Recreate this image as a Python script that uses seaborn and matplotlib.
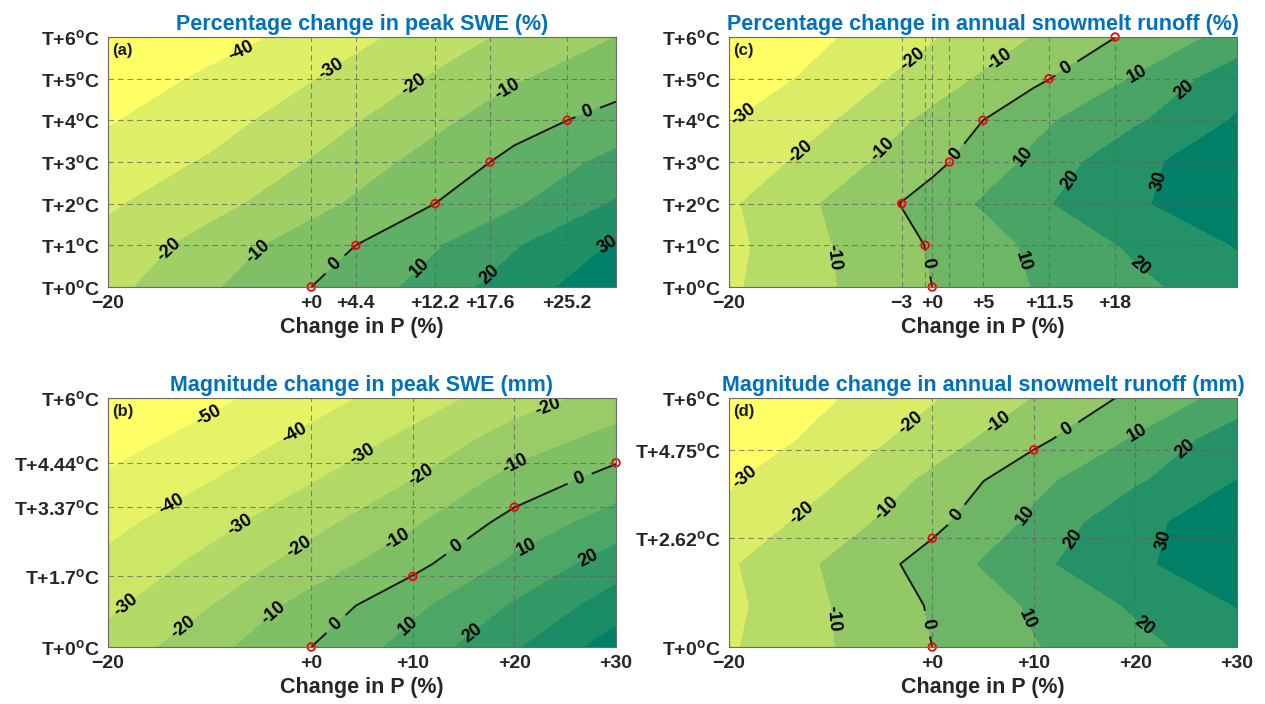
import numpy as np
import matplotlib
matplotlib.use("Agg")
import matplotlib.pyplot as plt
import seaborn as sns

# ---------------------------------------------------------------------------
# Sensitivity grids: rows = warming (T+0 .. T+6 degC), cols = change in P (%)
# ---------------------------------------------------------------------------
precip_change = [-20, -10, 0, 10, 20, 30]
warming = [0, 1, 2, 3, 4, 5, 6]

peak_swe_pct = [
    [-23.0, -11.5, 0.0, 11.5, 25.0, 37.0],
    [-27.0, -16.0, -4.8, 6.2, 19.0, 31.0],
    [-31.3, -23.5, -13.4, -2.4, 8.6, 21.0],
    [-36.0, -29.0, -19.5, -8.4, 2.64, 13.0],
    [-40.8, -34.0, -25.0, -15.0, -3.96, 3.66],
    [-45.0, -38.5, -30.5, -21.0, -11.0, -4.5],
    [-49.0, -43.5, -37.5, -27.0, -18.0, -10.0],
]
peak_swe_mm = [
    [-26.5, -13.3, 0.0, 13.9, 28.7, 45.0],
    [-32.0, -20.4, -6.0, 7.6, 20.9, 35.0],
    [-37.5, -27.1, -15.7, -2.9, 12.1, 25.0],
    [-43.0, -33.5, -23.1, -11.6, 3.6, 14.5],
    [-48.5, -40.3, -30.6, -19.8, -6.3, 4.5],
    [-54.0, -46.5, -37.5, -27.5, -15.5, -6.5],
    [-59.0, -52.5, -44.0, -35.0, -25.0, -16.0],
]
runoff_pct = [
    [-21.6, -10.75, 0.0, 10.3, 17.5, 26.0],
    [-22.7, -10.2, 0.86, 11.6, 21.7, 30.5],
    [-21.5, -8.75, 4.2, 17.9, 28.6, 37.0],
    [-27.1, -14.9, -2.5, 12.1, 28.4, 34.0],
    [-30.5, -20.8, -7.5, 7.5, 18.5, 31.0],
    [-36.9, -26.3, -15.2, -2.1, 10.8, 26.0],
    [-39.5, -30.9, -20.9, -9.76, 2.3, 13.6],
]
runoff_mm = [
    [-21.2, -10.5, 0.0, 9.4, 17.1, 25.5],
    [-22.5, -10.1, 0.9, 11.3, 21.3, 30.3],
    [-21.3, -8.7, 4.0, 17.6, 28.2, 36.5],
    [-27.3, -15.1, -2.6, 11.9, 28.0, 34.2],
    [-31.0, -21.2, -7.6, 7.4, 18.6, 30.2],
    [-37.2, -26.6, -15.4, -2.4, 11.0, 25.8],
    [-39.6, -31.0, -21.0, -9.8, 2.4, 13.8],
]

# Points where precipitation change offsets warming (zero change)
a_zero_p = [0, 4.4, 12.2, 17.6, 25.2]
a_zero_t = [0, 1, 2, 3, 4]
b_zero_p = [0, 10, 20, 30]
b_zero_t = [0, 1.7, 3.37, 4.44]
c_zero_p = [0, -0.7, -3, 1.7, 5, 11.5, 18]
c_zero_t = [0, 1, 2, 3, 4, 5, 6]
d_zero_p = [0, 0, 10]
d_zero_t = [0, 2.62, 4.75]

# Axis ticks
a_xticks = [-20, 0, 4.4, 12.2, 17.6, 25.2]
a_xlabels = ["\u221220", "+0", "+4.4", "+12.2", "+17.6", "+25.2"]
b_xticks = [-20, 0, 10, 20, 30]
b_xlabels = ["\u221220", "+0", "+10", "+20", "+30"]
c_xticks = [-20, -3, -0.7, 0, 1.7, 5, 11.5, 18]
c_xlabels = ["\u221220", "\u22123", "", "+0", "", "+5", "+11.5", "+18"]
d_xticks = [-20, 0, 10, 20, 30]
d_xlabels = ["\u221220", "+0", "+10", "+20", "+30"]
a_yticks = [0, 1, 2, 3, 4, 5, 6]
b_yticks = [0, 1.7, 3.37, 4.44, 6]
c_yticks = [0, 1, 2, 3, 4, 5, 6]
d_yticks = [0, 2.62, 4.75, 6]

# Contour levels
a_levels = list(range(-50, 41, 10))
b_levels = list(range(-60, 51, 10))
c_levels = list(range(-40, 41, 10))
d_levels = list(range(-40, 41, 10))

# Inline label anchor points (data coords) per contour level
a_label_pos = {
    -40: [(-6.8, 5.6)], -30: [(2.3, 5.1)],
    -20: [(10.8, 4.57), (-14.1, 0.92)], -10: [(19.9, 4.53), (-5.2, 0.84)],
    0: [(27.2, 4.2), (2.5, 0.5)], 10: [(10.6, 0.48)], 20: [(17.4, 0.32)],
    30: [(29.2, 1.0)],
}
b_label_pos = {
    -50: [(-10.1, 5.6)], -40: [(-1.8, 5.2), (-13.7, 3.39)],
    -30: [(5.1, 4.63), (-7.0, 2.95), (-18.4, 1.02)],
    -20: [(10.8, 4.15), (23.5, 5.64), (-1.2, 2.39), (-12.7, 0.5)],
    -10: [(20.1, 4.39), (8.5, 2.55), (-3.6, 0.78)],
    0: [(26.4, 4.07), (14.4, 2.39), (2.5, 0.54)],
    10: [(21.1, 2.47), (9.6, 0.5)], 20: [(27.2, 2.18), (15.6, 0.42)],
}
c_label_pos = {
    -30: [(-18.2, 4.0)], -20: [(-1.9, 5.45), (-13.0, 3.25)],
    -10: [(6.7, 5.41), (-4.7, 3.25), (-9.5, 0.72)],
    0: [(13.2, 5.25), (2.3, 3.2), (-0.5, 0.56)],
    10: [(19.8, 5.29), (8.8, 3.17), (8.8, 0.6)],
    20: [(24.8, 4.73), (13.8, 2.53), (20.4, 0.48)], 30: [(22.6, 2.53)],
}
d_label_pos = {
    -30: [(-18.8, 4.2)], -20: [(-2.3, 5.44), (-13.4, 3.4)],
    -10: [(6.4, 5.44), (-4.9, 3.44), (-9.7, 0.68)],
    0: [(13.2, 5.28), (2.3, 3.2), (-0.5, 0.56)],
    10: [(19.9, 5.28), (9.0, 3.2), (8.8, 0.6)],
    20: [(25.1, 4.72), (14.2, 2.56), (20.9, 0.52)], 30: [(22.9, 2.56)],
}

titles = {
    "a": "Percentage change in peak SWE (%)",
    "b": "Magnitude change in peak SWE (mm)",
    "c": "Percentage change in annual snowmelt runoff (%)",
    "d": "Magnitude change in annual snowmelt runoff (mm)",
}

# ---------------------------------------------------------------------------
sns.set_theme(style="white")
plt.rcParams["font.family"] = ["Liberation Sans", "DejaVu Sans"]
plt.rcParams["font.weight"] = "bold"
plt.rcParams["mathtext.fontset"] = "custom"
plt.rcParams["mathtext.rm"] = "Liberation Sans:bold"
plt.rcParams["mathtext.it"] = "Liberation Sans:bold"
plt.rcParams["mathtext.bf"] = "Liberation Sans:bold"

TEXT = "#262626"
TITLE_BLUE = "#0072BD"
LABEL_SIZE = 13

fig = plt.figure(figsize=(12.65, 7.04), dpi=100)

W = 508 / 1265
H_TOP = 250 / 704
H_BOT = 249 / 704
boxes = {
    "a": [108 / 1265, 1 - 287 / 704, W, H_TOP],
    "c": [729 / 1265, 1 - 287 / 704, W, H_TOP],
    "b": [108 / 1265, 1 - 647 / 704, W, H_BOT],
    "d": [729 / 1265, 1 - 647 / 704, W, H_BOT],
}

panels = {
    "a": (peak_swe_pct, a_levels, a_label_pos, a_zero_p, a_zero_t,
          a_xticks, a_xlabels, a_yticks),
    "b": (peak_swe_mm, b_levels, b_label_pos, b_zero_p, b_zero_t,
          b_xticks, b_xlabels, b_yticks),
    "c": (runoff_pct, c_levels, c_label_pos, c_zero_p, c_zero_t,
          c_xticks, c_xlabels, c_yticks),
    "d": (runoff_mm, d_levels, d_label_pos, d_zero_p, d_zero_t,
          d_xticks, d_xlabels, d_yticks),
}


def fmt(v):
    return f"{v:g}"


def ylab(t):
    return "T+" + f"{t:g}" + r"$^{o}$C"


P, T = np.meshgrid(precip_change, warming)

for key in ["a", "b", "c", "d"]:
    grid, levels, label_pos, zp, zt, xt, xl, yt = panels[key]
    Z = np.array(grid)
    ax = fig.add_axes(boxes[key])

    mids = [(levels[i] + levels[i + 1]) / 2 for i in range(len(levels) - 1)]
    ax.contourf(P, T, Z, levels=levels, cmap="summer_r",
                vmin=mids[0], vmax=mids[-1], zorder=1)

    # labels on the fill boundaries (no line drawn)
    for lev, pos in label_pos.items():
        if lev == 0:
            continue
        cs = ax.contour(P, T, Z, levels=[lev], colors="k", linewidths=0)
        txts = ax.clabel(cs, manual=pos, inline=False, fmt=fmt,
                         fontsize=LABEL_SIZE)
        for t in txts:
            t.set_fontweight("bold")
            t.set_color("black")

    # zero-change contour
    cs0 = ax.contour(P, T, Z, levels=[0], colors="k", linewidths=1.4, zorder=2)
    txts = ax.clabel(cs0, manual=label_pos[0], inline=True, inline_spacing=8,
                     fmt=fmt, fontsize=LABEL_SIZE)
    for t in txts:
        t.set_fontweight("bold")
        t.set_color("black")

    sns.scatterplot(x=zp, y=zt, ax=ax, s=30, marker="o", facecolor="none",
                    edgecolor="red", linewidth=1.3, zorder=5, clip_on=False,
                    legend=False)

    ax.set_xlim(-20, 30)
    ax.set_ylim(0, 6)
    ax.set_xticks(xt)
    ax.set_xticklabels(xl)
    ax.set_yticks(yt)
    ax.set_yticklabels([ylab(v) for v in yt])
    ax.tick_params(axis="both", length=0, pad=6, labelsize=14,
                   labelcolor=TEXT)
    for lab in ax.get_xticklabels() + ax.get_yticklabels():
        lab.set_fontweight("bold")

    ax.set_axisbelow(False)
    ax.grid(True, linestyle=(0, (5, 3.5)), color="#606060", linewidth=0.8,
            alpha=0.7)
    for sp in ax.spines.values():
        sp.set_color("#6a6a6a")
        sp.set_linewidth(0.8)
        sp.set_zorder(6)

    ax.set_ylabel("")
    ax.set_xlabel("Change in P (%)", fontsize=15.5, fontweight="bold",
                  color=TEXT, labelpad=3)
    ax.set_title(titles[key], color=TITLE_BLUE, fontsize=15.5,
                 fontweight="bold", pad=5)
    ax.text(0.008, 0.975, f"({key})", transform=ax.transAxes, ha="left",
            va="top", fontsize=12, fontweight="bold", color="k", zorder=7)

fig.savefig("out.png", dpi=100)
